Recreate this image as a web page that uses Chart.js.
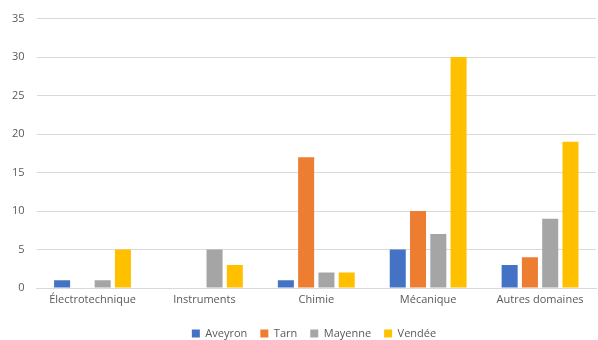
<!DOCTYPE html>
<html>
<head>
<meta charset="utf-8">
<script src="https://cdn.jsdelivr.net/npm/chart.js@4"></script>
<style>
  html, body { margin: 0; padding: 0; background: #ffffff; }
  #wrap { width: 598px; height: 340px; }
</style>
</head>
<body>
<div id="wrap"><canvas id="graficoDomaines"></canvas></div>
<script>
const categories = ['Électrotechnique', 'Instruments', 'Chimie', 'Mécanique', 'Autres domaines'];
const aveyron = [1, 0, 1, 5, 3];
const tarn = [0, 0, 17, 10, 4];
const mayenne = [1, 5, 2, 7, 9];
const vendee = [5, 3, 2, 30, 19];
const yTicks = [0, 5, 10, 15, 20, 25, 30, 35];

// legend sits lower and a bit to the right in the original
const legendShift = {
    id: 'legendShift',
    beforeInit(chart) {
        const fit = chart.legend.fit;
        chart.legend.fit = function () {
            fit.call(this);
            this.height -= 9;
        };
        const draw = chart.legend.draw;
        chart.legend.draw = function () {
            this.ctx.save();
            this.ctx.translate(16, 0);
            draw.call(this);
            this.ctx.restore();
        };
    }
};

const ctx = document.getElementById('graficoDomaines').getContext('2d');

const graficoDomaines = new Chart(ctx, {
    type: 'bar',
    data: {
        labels: categories,
        datasets: [
            { label: 'Aveyron', data: aveyron, backgroundColor: '#4472c4' },
            { label: 'Tarn', data: tarn, backgroundColor: '#ed7d31' },
            { label: 'Mayenne', data: mayenne, backgroundColor: '#a5a5a5' },
            { label: 'Vendée', data: vendee, backgroundColor: '#ffc000' }
        ]
    },
    options: {
        responsive: true,
        maintainAspectRatio: false,
        animation: false,
        datasets: {
            bar: { categoryPercentage: 0.725, barPercentage: 0.79 }
        },
        layout: { padding: { top: 16, right: 2, left: 0, bottom: 0 } },
        plugins: {
            legend: {
                position: 'bottom',
                labels: {
                    boxWidth: 8,
                    boxHeight: 8,
                    padding: 13,
                    color: '#595959',
                    font: { family: 'Open Sans', size: 11 }
                }
            },
            tooltip: { enabled: false }
        },
        scales: {
            x: {
                grid: { display: false, drawTicks: false },
                border: { color: '#d9d9d9' },
                ticks: { color: '#595959', font: { family: 'Open Sans', size: 11 }, padding: 5 },
                afterFit: (axis) => { axis.height = 27; }
            },
            y: {
                min: 0,
                max: 35,
                afterBuildTicks: (axis) => { axis.ticks = yTicks.map(v => ({ value: v })); },
                grid: { color: '#d9d9d9', drawTicks: false },
                border: { display: false },
                ticks: { color: '#595959', font: { family: 'Open Sans', size: 11 }, padding: 12 }
            }
        }
    },
    plugins: [legendShift]
});
</script>
</body>
</html>
